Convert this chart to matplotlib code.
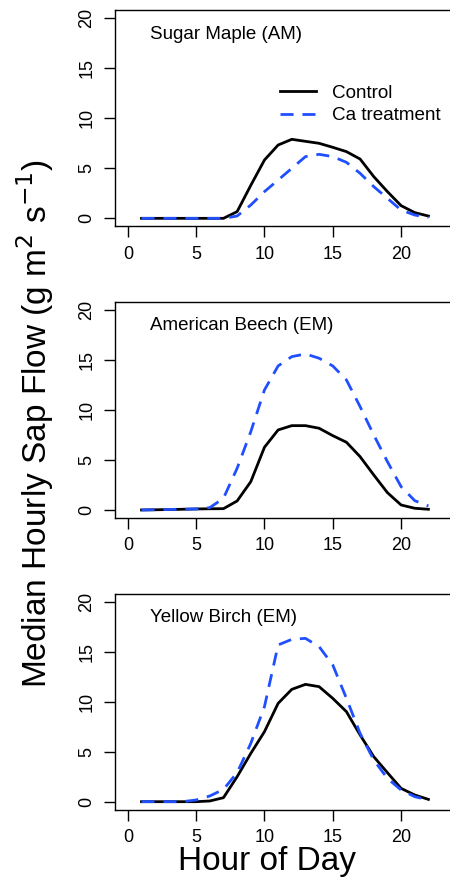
import numpy as np
import matplotlib
matplotlib.use("Agg")
import matplotlib.pyplot as plt

plt.rcParams['font.family'] = ['Liberation Sans', 'DejaVu Sans']

hours = list(range(1, 23))

# sugar maple
sm_control = [0, 0, 0, 0, 0, 0, 0, 0.67, 3.3, 5.83, 7.33, 7.9, 7.7, 7.5, 7.1, 6.67,
              5.93, 4.17, 2.67, 1.27, 0.57, 0.23]
sm_ca = [0, 0, 0, 0, 0, 0, 0, 0.23, 1.33, 2.67, 3.83, 5.0, 6.17, 6.4, 6.17, 5.6,
         4.5, 3.17, 2.0, 0.83, 0.33, 0.1]

# american beech
ab_control = [0, 0.02, 0.04, 0.07, 0.1, 0.12, 0.13, 0.9, 2.83, 6.27, 8.0, 8.43, 8.43,
              8.17, 7.43, 6.77, 5.33, 3.5, 1.73, 0.5, 0.17, 0.07]
ab_ca = [0, 0.02, 0.05, 0.08, 0.1, 0.23, 1.17, 4.17, 7.83, 12.0, 14.4, 15.33, 15.6,
         15.17, 14.4, 13.0, 10.33, 7.5, 4.83, 2.33, 0.93, 0.4]

# yellow birch
yb_control = [0, 0, 0, 0, 0, 0.07, 0.4, 2.5, 4.83, 7.0, 9.83, 11.23, 11.73, 11.5,
              10.33, 9.0, 6.67, 4.5, 2.9, 1.33, 0.67, 0.23]
yb_ca = [0, 0, 0, 0, 0.17, 0.57, 1.23, 2.9, 5.83, 9.5, 15.67, 16.23, 16.33, 15.5,
         13.67, 10.33, 6.83, 4.17, 2.33, 1.17, 0.5, 0.17]

titles = ["Sugar Maple (AM)", "American Beech (EM)", "Yellow Birch (EM)"]
controls = [sm_control, ab_control, yb_control]
treats = [sm_ca, ab_ca, yb_ca]

blue = '#1f4fff'

fig = plt.figure(figsize=(4.5, 8.8), dpi=100)
bottoms = [0.7428, 0.4114, 0.0799]

for i in range(3):
    ax = fig.add_axes([0.2549, bottoms[i], 0.787, 0.2455])
    ax.plot(hours, controls[i], color='black', lw=2, label='Control')
    ax.plot(hours, treats[i], color=blue, lw=2, linestyle=(0, (4.7, 3.2)),
            label='Ca treatment')
    ax.set_xlim(-0.96, 24.96)
    ax.set_ylim(-0.8, 20.8)
    ax.set_xticks([0, 5, 10, 15, 20])
    ax.set_yticks([0, 5, 10, 15, 20])
    ax.tick_params(direction='out', length=8, width=1, labelsize=13, pad=6)
    for lab in ax.get_yticklabels():
        lab.set_rotation(90)
        lab.set_va('center')
    for s in ax.spines.values():
        s.set_linewidth(1)
    ax.text(1.6, 18.4, titles[i], fontsize=13.5, va='center', ha='left')
    if i == 0:
        ax.legend(loc='upper left', bbox_to_anchor=(0.467, 0.655), frameon=False,
                  fontsize=13.6, handlelength=1.9, handletextpad=0.83,
                  borderpad=0, borderaxespad=0, labelspacing=0.27)

fig.text(35 / 450, 1 - 424 / 880, r'Median Hourly Sap Flow (g m$^{2}$ s$^{-1}$)',
         rotation=90, ha='center', va='center', fontsize=24)
fig.text(266.7 / 450, 1 - 870 / 880, 'Hour of Day', ha='center', va='baseline',
         fontsize=24)

fig.savefig('out.png', dpi=100)
